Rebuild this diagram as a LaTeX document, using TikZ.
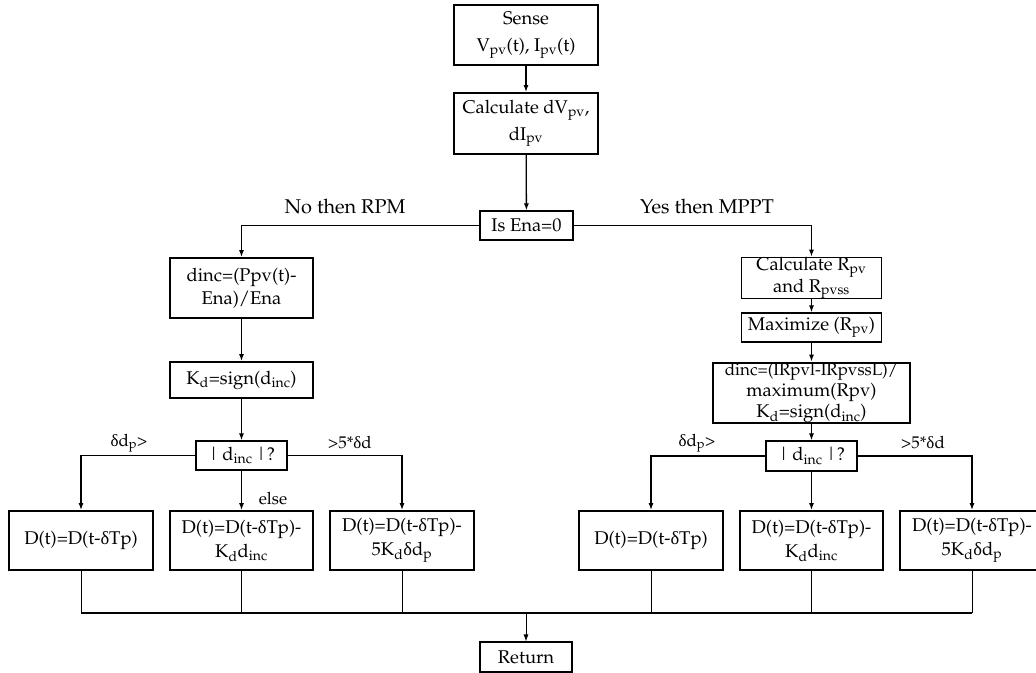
\documentclass[tikz,border=0pt]{standalone}
\usepackage[T1]{fontenc}
\usepackage{mathpazo}
\usetikzlibrary{arrows.meta}
\newcommand{\sub}[1]{\textsubscript{#1}}
% upright small delta taken from a Unicode serif face
\font\grkbig="Liberation Serif" at 18.5bp
\font\grksmall="Liberation Serif" at 17bp
\newcommand{\dlt}{{\grkbig δ}}
\newcommand{\dlts}{{\grksmall δ}}
\begin{document}
\begin{tikzpicture}[x=1bp,y=-1bp,
  every node/.style={font=\fontsize{18.5}{21.5}\selectfont},
  box/.style={draw, line width=1.7bp, align=center, inner sep=0pt},
  lightbox/.style={box, line width=1.1bp},
  heavybox/.style={box, line width=2.4bp},
  flow/.style={line width=1.3bp, -{Latex[length=7bp,width=5bp]}},
  drop/.style={line width=0.8bp},
  bus/.style={line width=1.8bp},
  lbl/.style={inner sep=0pt, font=\fontsize{17}{20}\selectfont},
  biglbl/.style={inner sep=0pt, font=\fontsize{20}{23}\selectfont}]
\useasboundingbox (0,0) rectangle (1036,673);

% trunk
\node[box, minimum width=144bp, minimum height=60bp] (sense) at (526,35)
  {Sense\\[6bp]V\sub{pv}(t), I\sub{pv}(t)};
\node[box, minimum width=144bp, minimum height=61bp] (calc) at (526,123.5)
  {Calculate dV\sub{pv},\\[5bp]dI\sub{pv}};
\node[lightbox, minimum width=93bp, minimum height=29bp] (isena) at (526.5,225.5)
  {Is Ena=0};

% left branch (RPM)
\node[box, minimum width=143bp, minimum height=60bp] (dincL) at (241.5,288)
  {dinc=(Ppv(t)-\\[1.5bp]Ena)/Ena};
\node[box, minimum width=143bp, minimum height=36bp] (kdL) at (241.5,380)
  {K\sub{d}=sign(d\sub{inc})};
\node[lightbox, minimum width=91bp, minimum height=29bp] (absL) at (241.5,455.5)
  {|\,d\sub{inc}\,|?};
\node[box, minimum width=144bp, minimum height=59bp] (L1) at (81,540.5)
  {D(t)=D(t-\dlt Tp)};
\node[box, minimum width=143bp, minimum height=59bp] (L2) at (241.5,540.5)
  {D(t)=D(t-\dlt Tp)-\\[2.5bp]K\sub{d}d\sub{inc}};
\node[box, minimum width=144bp, minimum height=59bp] (L3) at (402,540.5)
  {D(t)=D(t-\dlt Tp)-\\[2.5bp]5K\sub{d}\dlt d\sub{p}};

% right branch (MPPT)
\node[lightbox, minimum width=140bp, minimum height=38bp] (calcR) at (811.5,278)
  {\fontsize{18.5}{15}\selectfont Calculate R\sub{pv}\\and R\sub{pvss}};
\node[lightbox, minimum width=140bp, minimum height=29bp] (maxR) at (811.5,327.5)
  {Maximize (R\sub{pv})};
\node[heavybox, minimum width=197bp, minimum height=60bp] (dincR) at (811.5,393)
  {\fontsize{17}{15}\selectfont dinc=(IRpvl-IRpvssL)/\\maximum(Rpv)\\K\sub{d}=sign(d\sub{inc})};
\node[lightbox, minimum width=91bp, minimum height=30bp] (absR) at (811.5,456)
  {|\,d\sub{inc}\,|?};
\node[box, minimum width=144bp, minimum height=59bp] (R1) at (651,540.5)
  {D(t)=D(t-\dlt Tp)};
\node[box, minimum width=143bp, minimum height=59bp] (R2) at (811.5,540.5)
  {D(t)=D(t-\dlt Tp)-\\[2.5bp]K\sub{d}d\sub{inc}};
\node[box, minimum width=144bp, minimum height=59bp] (R3) at (972,540.5)
  {D(t)=D(t-\dlt Tp)-\\[2.5bp]5K\sub{d}\dlt d\sub{p}};

% end
\node[lightbox, minimum width=92bp, minimum height=30bp] (ret) at (526,657) {Return};
\coordinate (busL) at (81,612.7);
\coordinate (busR) at (972,612.7);

% connectors along the trunk
\draw[flow] (sense) -- (calc);
\draw[flow] (calc) -- (isena);
\draw[flow] (isena.west) -| (dincL.north);
\draw[flow] (isena.east) -| (calcR.north);

% left chain
\draw[flow] (dincL) -- (kdL);
\draw[flow] (kdL) -- (absL);
\draw[flow] (absL.west) -| (L1.north);
\draw[flow] (absL) -- (L2);
\draw[flow] (absL.east) -| (L3.north);

% right chain
\draw[flow] (calcR) -- (maxR);
\draw[flow] (maxR) -- (dincR);
\draw[flow] (dincR) -- (absR);
\draw[flow] (absR.west) -| (R1.north);
\draw[flow] (absR) -- (R2);
\draw[flow] (absR.east) -| (R3.north);

% collecting bus
\foreach \b in {L1,L2,L3,R1,R2,R3}
  \draw[drop] (\b.south) -- (\b.south |- busL);
\draw[bus] (busL) -- (busR);
\draw[flow, line width=0.8bp] (ret.north |- busL) -- (ret.north);

% branch labels
\node[biglbl] at (345,207) {No then RPM};
\node[biglbl] at (707,207) {Yes then MPPT};
\node[lbl] at (129,443) {\dlts d\sub{p}>};
\node[lbl] at (350,443) {>5*\dlts d};
\node[lbl] at (273,499) {else};
\node[lbl] at (697,443) {\dlts d\sub{p}>};
\node[lbl] at (923,443) {>5*\dlts d};
\end{tikzpicture}
\end{document}
